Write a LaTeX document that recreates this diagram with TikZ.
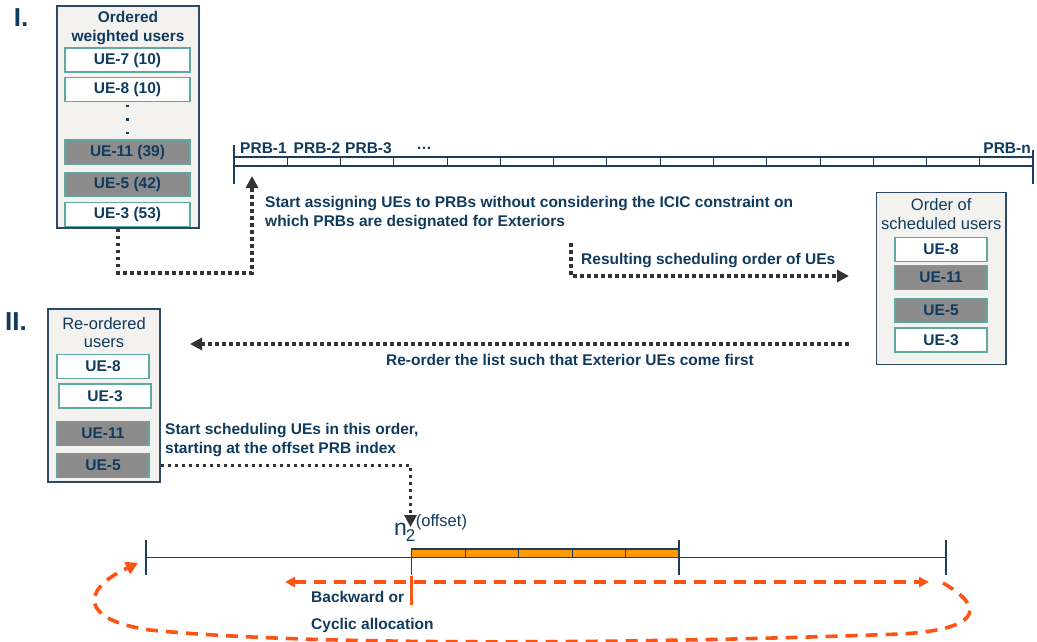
\documentclass[tikz,border=0pt]{standalone}
\usepackage{fontspec}
\setmainfont{Liberation Sans}
\usetikzlibrary{arrows.meta}
\definecolor{navy}{HTML}{103A5E}
\definecolor{boxline}{HTML}{2C4A68}
\definecolor{boxfill}{HTML}{F3F2EF}
\definecolor{tealc}{HTML}{5FA9A2}
\definecolor{grayf}{HTML}{8C8C8C}
\definecolor{dotc}{HTML}{333333}
\definecolor{orangef}{HTML}{FF9A00}
\definecolor{oranged}{HTML}{FF5314}
\definecolor{barc}{HTML}{1E3D5C}
\newcommand\myfsb{\bfseries\fontsize{15.5}{19}\selectfont}
\newcommand\myfsr{\fontsize{16.5}{18.5}\selectfont}
\begin{document}
\begin{tikzpicture}[x=1pt,y=-1pt,
 outerbox/.style={draw=boxline,fill=boxfill,line width=1.5pt,inner sep=0pt},
 uebox/.style={draw=tealc,fill=white,line width=1.2pt,inner sep=0pt,minimum height=24pt,text=navy,font=\myfsb},
 uegray/.style={uebox,fill=grayf},
 lbl/.style={text=navy,font=\myfsb,inner sep=0pt},
 ttl/.style={text=navy,font=\myfsr,inner sep=0pt,align=center},
 dotarrow/.style={draw=dotc,line width=3.6pt,dash pattern=on 3.6pt off 3.4pt,-{Triangle[length=12pt,width=12pt]}},
 barline/.style={draw=barc,line width=1.4pt},
 orline/.style={draw=oranged,line width=3.4pt},
 ordash/.style={draw=oranged,line width=3.6pt,dash pattern=on 12pt off 8pt}
]
\useasboundingbox (0,0) rectangle (1037,641);

% section labels
\node[lbl,font=\bfseries\fontsize{26}{26}\selectfont] (s1) at (21,18) {I.};
\node[lbl,font=\bfseries\fontsize{26}{26}\selectfont] (s2) at (16,322) {II.};

% box 1
\node[outerbox,minimum width=142pt,minimum height=222pt] (b1) at (128,117) {};
\node[ttl,font=\myfsb,align=center] (t1) at (128,28) {Ordered\\weighted users};
\node[uebox,minimum width=125pt] (u17) at (127.5,60) {UE-7 (10)};
\node[uebox,minimum width=125pt] (u18) at (127.5,89.5) {UE-8 (10)};
\foreach \yy in {106,119.5,133} \fill[navy] (125.8,\yy-1.4) rectangle (128.6,\yy+1.4);
\node[uegray,minimum width=125pt] (u111) at (127.5,152) {UE-11 (39)};
\node[uegray,minimum width=125pt] (u15) at (127.5,184.5) {UE-5 (42)};
\node[uebox,minimum width=125pt] (u13) at (127.5,214.5) {UE-3 (53)};

% PRB bar
\draw[barline] (234,157) rectangle (1033,166);
\foreach \i in {1,...,14} \draw[barc,line width=0.8pt] (234+\i*53.27,157) -- (234+\i*53.27,166);
\draw[barline] (234,145) -- (234,184);
\draw[barline] (1033,150) -- (1033,184);
\node[lbl] (p1) at (263.5,148) {PRB-1};
\node[lbl] (p2) at (317,148) {PRB-2};
\node[lbl] (p3) at (368.5,148) {PRB-3};
\node[lbl] (p4) at (424,148) {\dots};
\node[lbl,anchor=east] (pn) at (1031,148) {PRB-n};
\coordinate (a1) at (252,176);

\node[lbl,anchor=west,align=left] (tx1) at (265,213.5) {Start assigning UEs to PRBs without considering the ICIC constraint on\\which PRBs are designated for Exteriors};

% box 2
\node[outerbox,minimum width=129.5pt,minimum height=172pt] (b2) at (941.25,278.5) {};
\node[ttl] (t2) at (941.25,214) {Order of\\scheduled users};
\node[uebox,minimum width=92pt] (u28) at (941,249.5) {UE-8};
\node[uegray,minimum width=92pt] (u211) at (941,277.5) {UE-11};
\node[uegray,minimum width=92pt] (u25) at (941,310.5) {UE-5};
\node[uebox,minimum width=92pt] (u23) at (941,340) {UE-3};

\coordinate (r0) at (571,243);
\coordinate (r1) at (849,276);
\node[lbl,anchor=west] (tx2) at (581,261) {Resulting scheduling order of UEs};

\coordinate (q0) at (849,344);
\coordinate (q1) at (190,344);
\node[lbl] (tx3) at (570,360) {Re-order the list such that Exterior UEs come first};

% box 3
\node[outerbox,minimum width=112pt,minimum height=173pt] (b3) at (104,395.5) {};
\node[ttl] (t3) at (104,332.5) {Re-ordered\\users};
\node[uebox,minimum width=92pt] (u38) at (103,366.5) {UE-8};
\node[uebox,minimum width=92pt] (u33) at (105,396) {UE-3};
\node[uegray,minimum width=92pt] (u311) at (103,433.5) {UE-11};
\node[uegray,minimum width=92pt] (u35) at (103,465.5) {UE-5};

\node[lbl,anchor=west,align=left] (tx4) at (165,440) {Start scheduling UEs in this order,\\starting at the offset PRB index};

% offset label
\coordinate (o1) at (410.5,527);
\node[text=navy,inner sep=0pt,anchor=base west] (n2) at (394,535) {\fontsize{23}{23}\selectfont n\kern-1pt\raisebox{-6pt}{\fontsize{17}{17}\selectfont 2}\kern0.5pt\raisebox{9pt}{\fontsize{16.5}{16.5}\selectfont (offset)}};

% connectors
\draw[dotarrow] ([xshift=-10pt]b1.south) -- ++(0,44) -| (a1);
\draw[dotarrow] (r0) |- (r1);
\draw[dotarrow] (q0) -- (q1);
\draw[dotarrow] (b3.east |- u35.east) -| (o1);

% bottom bar
\draw[barline] (146,557.5) -- (946,557.5);
\draw[barc,line width=1.3pt,fill=orangef] (411.7,549) rectangle (679,557.5);
\foreach \xx in {465.2,518.7,572.2,625.7} \draw[barc,line width=1pt] (\xx,549) -- (\xx,557.5);
\draw[barline] (146,540) -- (146,575);
\draw[barline] (946,540) -- (946,575);
\draw[barline] (679,540) -- (679,575);
\draw[barline] (411.7,549) -- (411.7,575);
\coordinate (bl) at (285,582);
\coordinate (br) at (929,582);
\draw[ordash,{Triangle[length=10pt,width=10pt]}-{Triangle[length=10pt,width=10pt]}] (bl) -- (br);
\draw[orline] (411.7,576) -- (411.7,605);
\coordinate (lp0) at (943,583);
\coordinate (lp1) at (138,563);
\draw[ordash,-{Triangle[length=12pt,width=13pt]}] (lp0) .. controls (990,610) and (975,630) .. (900,634) .. controls (600,645) and (300,645) .. (150,630) .. controls (80,620) and (80,590) .. (lp1);

\node[lbl,anchor=west] (tx5) at (311,597) {Backward or};
\node[lbl,anchor=west] (tx6) at (311,625) {Cyclic allocation};
\end{tikzpicture}
\end{document}
